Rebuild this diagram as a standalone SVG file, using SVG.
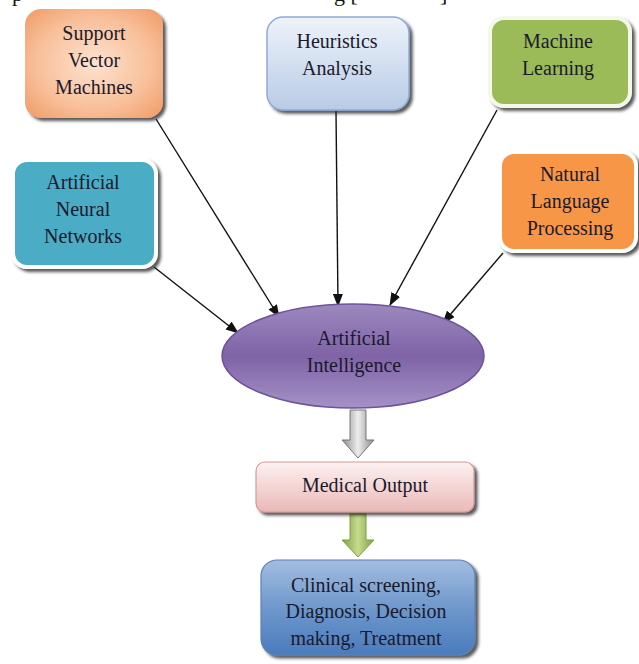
<svg xmlns="http://www.w3.org/2000/svg" width="639" height="664" viewBox="0 0 639 664" font-family="'Liberation Serif', Tinos, 'Times New Roman', 'DejaVu Serif', serif">
<defs>
<style>
text{font-family:"Liberation Serif",Tinos,"Times New Roman","DejaVu Serif",serif;font-size:20px;fill:#1a1a2c;text-anchor:middle}
.frag{font-size:22px;fill:#111;text-anchor:start}
.conn{stroke:#111;stroke-width:1.4;fill:none;marker-end:url(#ah)}
</style>
<marker id="ah" markerUnits="userSpaceOnUse" markerWidth="13" markerHeight="10" refX="12" refY="5" orient="auto"><path d="M0,0 L13,5 L0,10 Z" fill="#111"/></marker>
<filter id="sh" x="-10%" y="-10%" width="130%" height="130%"><feDropShadow dx="3" dy="3" stdDeviation="1.5" flood-color="#222" flood-opacity="0.75"/></filter>
<radialGradient id="gSvm" cx="0.5" cy="0.5" r="0.7"><stop offset="0" stop-color="#fde2cf"/><stop offset="0.6" stop-color="#f8bf99"/><stop offset="1" stop-color="#f09a64"/></radialGradient>
<linearGradient id="gHeu" x1="0" y1="0" x2="0" y2="1"><stop offset="0" stop-color="#eef3fa"/><stop offset="1" stop-color="#b8cbe6"/></linearGradient>
<linearGradient id="gAI" x1="0" y1="0" x2="0" y2="1"><stop offset="0" stop-color="#9d88bf"/><stop offset="0.5" stop-color="#7f63a6"/><stop offset="1" stop-color="#a592c6"/></linearGradient>
<linearGradient id="gMed" x1="0" y1="0" x2="0" y2="1"><stop offset="0" stop-color="#fdf1f1"/><stop offset="1" stop-color="#eab9b8"/></linearGradient>
<linearGradient id="gCli" x1="0" y1="0" x2="0" y2="1"><stop offset="0" stop-color="#a2bde0"/><stop offset="0.5" stop-color="#6f98cc"/><stop offset="1" stop-color="#4a7bbd"/></linearGradient>
<linearGradient id="gGray" x1="0" y1="0" x2="1" y2="0"><stop offset="0" stop-color="#8a8a8a"/><stop offset="0.5" stop-color="#eeeeee"/><stop offset="1" stop-color="#8a8a8a"/></linearGradient>
<linearGradient id="gGreen" x1="0" y1="0" x2="1" y2="0"><stop offset="0" stop-color="#7fa040"/><stop offset="0.5" stop-color="#c6dc8e"/><stop offset="1" stop-color="#7fa040"/></linearGradient>
</defs>

<g id="page-fragments">
<text class="frag" x="12" y="1">p</text>
<text class="frag" x="334" y="1">g [</text>
<text class="frag" x="440" y="1">]</text>
</g>

<g id="connectors">
<line class="conn" x1="156" y1="119" x2="279" y2="317"/>
<line class="conn" x1="336" y1="111" x2="338" y2="306"/>
<line class="conn" x1="497" y1="110" x2="390" y2="305"/>
<line class="conn" x1="154" y1="267" x2="238" y2="333"/>
<line class="conn" x1="503" y1="253" x2="443" y2="323"/>
<path d="M350,410 L366,410 L366,440 L374,440 L358,458 L342,440 L350,440 Z" fill="url(#gGray)" stroke="#777" stroke-width="1"/>
<path d="M350,514 L366,514 L366,540 L374,540 L358,557 L342,540 L350,540 Z" fill="url(#gGreen)" stroke="#7fa040" stroke-width="1"/>
</g>

<g id="svm">
<rect x="25" y="9" width="138" height="109" rx="16" fill="url(#gSvm)" filter="url(#sh)"/>
<text x="94" y="40">Support</text>
<text x="94" y="67">Vector</text>
<text x="94" y="94">Machines</text>
</g>

<g id="heuristics">
<rect x="267" y="17" width="142" height="93" rx="16" fill="url(#gHeu)" stroke="#8eaad6" stroke-width="1.5" filter="url(#sh)"/>
<text x="337" y="48">Heuristics</text>
<text x="337" y="75">Analysis</text>
</g>

<g id="ml">
<rect x="490" y="18" width="140" height="88" rx="14" fill="#9bbb59" stroke="#f4f8ea" stroke-width="4" filter="url(#sh)"/>
<text x="558" y="48">Machine</text>
<text x="558" y="75">Learning</text>
</g>

<g id="ann">
<rect x="13" y="160" width="143" height="107" rx="14" fill="#4bacc6" stroke="#fff" stroke-width="4" filter="url(#sh)"/>
<text x="83" y="189">Artificial</text>
<text x="83" y="216">Neural</text>
<text x="83" y="243">Networks</text>
</g>

<g id="nlp">
<rect x="500" y="152" width="136" height="99" rx="14" fill="#f79646" stroke="#fff" stroke-width="4" filter="url(#sh)"/>
<text x="570" y="181">Natural</text>
<text x="570" y="208">Language</text>
<text x="570" y="235">Processing</text>
</g>

<g id="ai">
<ellipse cx="353" cy="356" rx="131" ry="52" fill="url(#gAI)" stroke="#6a559a" stroke-width="1.5"/>
<text x="354" y="345">Artificial</text>
<text x="354" y="372">Intelligence</text>
</g>

<g id="medical">
<rect x="256" y="462" width="218" height="50" rx="9" fill="url(#gMed)" stroke="#d59a99" stroke-width="1.2" filter="url(#sh)"/>
<text x="365" y="492">Medical Output</text>
</g>

<g id="clinical">
<rect x="261" y="560" width="214" height="95" rx="16" fill="url(#gCli)" stroke="#5a82b8" stroke-width="1.2" filter="url(#sh)"/>
<text x="366" y="592">Clinical screening,</text>
<text x="366" y="618">Diagnosis, Decision</text>
<text x="366" y="645">making, Treatment</text>
</g>
</svg>
